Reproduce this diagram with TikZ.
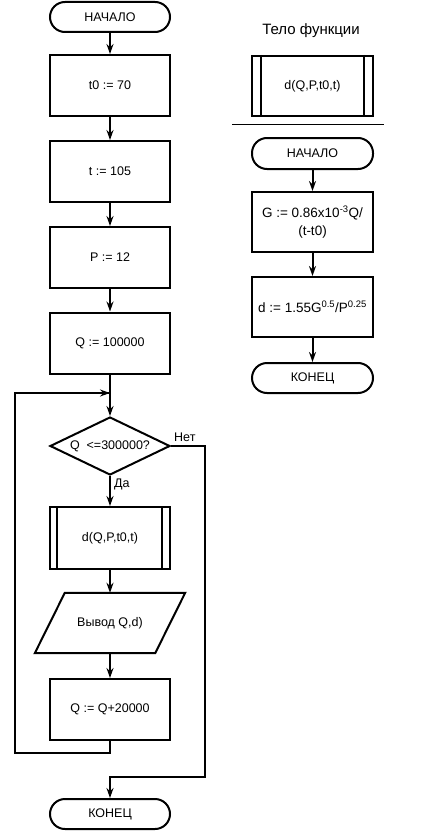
\documentclass[tikz,border=0pt]{standalone}
\usepackage{fontspec}
\setmainfont{Liberation Sans}
\usetikzlibrary{arrows.meta,shapes.geometric}
\begin{document}
\begin{tikzpicture}[x=1pt,y=-1pt,
  font=\fontsize{12.5}{14}\selectfont,
  every node/.style={inner sep=0pt, align=center},
  box/.style={draw, line width=2pt, minimum width=120pt, minimum height=61pt},
  term/.style={draw, line width=2pt, rounded corners=15pt, minimum width=120pt, minimum height=30pt},
  dec/.style={draw, line width=2pt, diamond, aspect=2, minimum width=120pt, minimum height=58pt},
  plain/.style={minimum width=120pt, minimum height=60pt},
  arr/.style={line width=2pt, -{Stealth[length=10pt,width=7pt]}},
  ln/.style={line width=2pt},
  big/.style={font=\fontsize{13.5}{16}\selectfont}]
\useasboundingbox (0,0) rectangle (440,832);
% left column
\node[term] (start) at (110,17) {НАЧАЛО};
\node[box] (a1) at (110,85.5) {t0 := 70};
\node[box] (a2) at (110,171.5) {t := 105};
\node[box] (a3) at (110,257.5) {P := 12};
\node[box] (a4) at (110,343) {Q := 100000};
\coordinate (merge) at (110,393);
\node[dec] (cond) at (110,446) {Q \ <=300000?};
\node[box, minimum height=62pt] (sub) at (110,538) {d(Q,P,t0,t)};
\draw[ln] ([xshift=8pt]sub.north west) -- ([xshift=8pt]sub.south west);
\draw[ln] ([xshift=-9pt]sub.north east) -- ([xshift=-9pt]sub.south east);
\node[plain] (out) at (110,623) {Вывод Q,d)};
\draw[ln] ([xshift=15pt]out.north west) -- ([xshift=15pt]out.north east)
  -- ([xshift=-15pt]out.south east) -- ([xshift=-15pt]out.south west) -- cycle;
\node[box] (inc) at (110,709.5) {Q := Q+20000};
\node[term] (end) at (110,814) {КОНЕЦ};
\coordinate (lb1) at (110,753);
\coordinate (lb2) at (15,753);
\coordinate (lb3) at (15,393);
\coordinate (no1) at (205,446);
\coordinate (no2) at (205,777);
\coordinate (no3) at (110,777);

\draw[arr] (start) -- (a1);
\draw[arr] (a1) -- (a2);
\draw[arr] (a2) -- (a3);
\draw[arr] (a3) -- (a4);
\draw[arr] (a4.south) -- (cond.north);
\draw[arr] (cond.south) -- (sub.north);
\draw[arr] (sub) -- (out);
\draw[arr] (out) -- (inc);
\draw[ln, line join=miter] (inc.south) -- (lb1) -- (lb2) -- (lb3) -- (merge);
\draw[arr] (lb3) -- (merge);
\draw[arr, line join=miter] (cond.east) -- (no1) -- (no2) -- (no3) -- (end.north);
\node[anchor=west] (nolab) at (174,437) {Нет};
\node[anchor=west] (yeslab) at (114,484) {Да};

% right column
\node[font=\fontsize{15}{17}\selectfont] (title) at (311,31) {Тело функции};
\node[box, minimum width=121pt, minimum height=60pt] (fsub) at (312.5,86) {d(Q,P,t0,t)};
\draw[ln] ([xshift=10pt]fsub.north west) -- ([xshift=10pt]fsub.south west);
\draw[ln] ([xshift=-10pt]fsub.north east) -- ([xshift=-10pt]fsub.south east);
\coordinate (sepL) at (232,125);
\coordinate (sepR) at (384,125);
\draw[line width=1pt] (sepL) -- (sepR);
\node[term, minimum width=121pt, minimum height=31pt] (fstart) at (312.5,153.5) {НАЧАЛО};
\node[box, big, minimum width=121pt, minimum height=60pt] (fG) at (312.5,222) {G := 0.86x10\textsuperscript{-3}Q/\\[2pt](t-t0)};
\node[box, big, minimum width=121pt, minimum height=60pt] (fd) at (312.5,307) {d := 1.55G\textsuperscript{0.5}/P\textsuperscript{0.25}};
\node[term, minimum width=121pt, minimum height=30pt] (fend) at (312.5,378) {КОНЕЦ};
\draw[arr] (fstart) -- (fG);
\draw[arr] (fG) -- (fd);
\draw[arr] (fd) -- (fend);
\end{tikzpicture}
\end{document}
